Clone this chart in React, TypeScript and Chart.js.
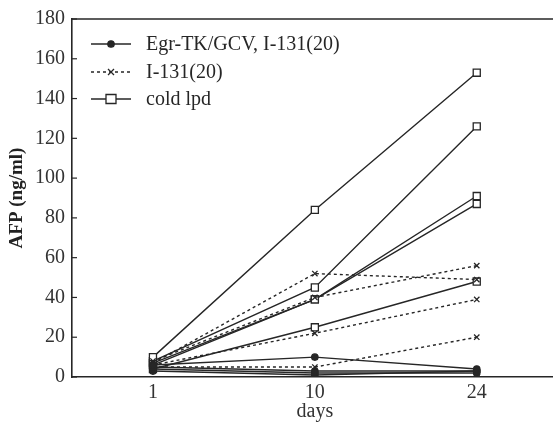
import React, { useEffect, useRef } from 'react';
import { Chart, registerables } from 'chart.js';

Chart.register(...registerables);

const days = ['1', '10', '24'];
const yMin = 0;
const yMax = 180;
const yStep = 20;

const egrLabel = 'Egr-TK/GCV, I-131(20)';
const i131Label = 'I-131(20)';
const coldLabel = 'cold lpd';

// Egr-TK/GCV, I-131(20) animals
const egrA = [6, 10, 4];
const egrB = [5, 3, 3];
const egrC = [4, 2, 2];
const egrD = [3, 1, 3];

// I-131(20) animals
const i131A = [7, 52, 49];
const i131B = [8, 40, 56];
const i131C = [6, 22, 39];
const i131D = [5, 5, 20];

// cold lpd animals
const coldA = [10, 84, 153];
const coldB = [8, 45, 126];
const coldC = [7, 39, 91];
const coldD = [6, 39, 87];
const coldE = [4, 25, 48];

const egrSeries = [egrA, egrB, egrC, egrD];
const i131Series = [i131A, i131B, i131C, i131D];
const coldSeries = [coldA, coldB, coldC, coldD, coldE];

const INK = '#262626';
const FONT = "'Liberation Serif', 'DejaVu Serif', serif";

const groupStyles = [
  { label: egrLabel, series: egrSeries, dash: [] as number[], pointStyle: 'circle', radius: 3.2, fill: INK },
  { label: i131Label, series: i131Series, dash: [3, 3], pointStyle: 'crossRot', radius: 3.8, fill: INK },
  { label: coldLabel, series: coldSeries, dash: [] as number[], pointStyle: 'rect', radius: 5, fill: '#ffffff' },
];

const framePlugin = {
  id: 'frameAndLegend',
  afterDraw(chart: any) {
    const ctx = chart.ctx;
    const { left, top, right } = chart.chartArea;
    const ys = chart.scales.y;
    ctx.save();
    ctx.strokeStyle = INK;
    ctx.lineWidth = 1.6;
    ctx.setLineDash([]);
    ctx.beginPath();
    ctx.moveTo(left, top);
    ctx.lineTo(right, top);
    ctx.stroke();
    // inward y ticks
    ctx.lineWidth = 1.2;
    for (let v = yMin; v <= yMax; v += yStep) {
      const y = ys.getPixelForValue(v);
      ctx.beginPath();
      ctx.moveTo(left, y);
      ctx.lineTo(left + 5, y);
      ctx.stroke();
    }
    // legend
    const rows = [44, 72, 99];
    groupStyles.forEach((g, i) => {
      const y = rows[i];
      ctx.strokeStyle = INK;
      ctx.lineWidth = 1.5;
      ctx.setLineDash(g.dash);
      ctx.beginPath();
      ctx.moveTo(91, y);
      ctx.lineTo(131, y);
      ctx.stroke();
      ctx.setLineDash([]);
      ctx.fillStyle = g.fill;
      ctx.lineWidth = 1.3;
      const cx = 111;
      if (g.pointStyle === 'circle') {
        ctx.beginPath();
        ctx.arc(cx, y, 3.2, 0, Math.PI * 2);
        ctx.fill();
        ctx.stroke();
      } else if (g.pointStyle === 'crossRot') {
        const r = 3;
        ctx.beginPath();
        ctx.moveTo(cx - r, y - r);
        ctx.lineTo(cx + r, y + r);
        ctx.moveTo(cx - r, y + r);
        ctx.lineTo(cx + r, y - r);
        ctx.stroke();
      } else {
        ctx.beginPath();
        ctx.rect(cx - 5, y - 4.5, 10, 9);
        ctx.fill();
        ctx.stroke();
      }
      ctx.fillStyle = INK;
      ctx.font = `20px ${FONT}`;
      ctx.textBaseline = 'middle';
      ctx.textAlign = 'left';
      ctx.fillText(g.label, 146, y + 1);
    });
    ctx.restore();
  },
};

export default function App() {
  const ref = useRef<HTMLCanvasElement>(null);
  useEffect(() => {
    if (!ref.current) return;
    const datasets: any[] = [];
    groupStyles.forEach((g) => {
      g.series.forEach((s, idx) => {
        datasets.push({
          label: `${g.label} #${idx + 1}`,
          data: s,
          borderColor: INK,
          borderWidth: 1.4,
          borderDash: g.dash,
          pointStyle: g.pointStyle,
          pointRadius: g.radius,
          pointBackgroundColor: g.fill,
          pointBorderColor: INK,
          pointBorderWidth: 1.3,
          tension: 0,
          fill: false,
        });
      });
    });
    const chart = new Chart(ref.current, {
      type: 'line',
      data: { labels: days, datasets },
      options: {
        animation: false,
        responsive: false,
        maintainAspectRatio: false,
        layout: { padding: { left: 0, right: 0, top: 18, bottom: 0 } },
        plugins: { legend: { display: false }, tooltip: { enabled: false } },
        scales: {
          x: {
            type: 'category',
            offset: true,
            grid: { display: false, drawTicks: false },
            border: { display: true, color: INK, width: 1.6 },
            ticks: { color: '#333', font: { family: FONT, size: 20 }, padding: 4 },
            title: { display: true, text: 'days', color: '#333', font: { family: FONT, size: 20 }, padding: { top: 0, bottom: 2 } },
            afterFit(scale: any) { scale.height = 49; },
          },
          y: {
            min: yMin,
            max: yMax,
            grid: { display: false, drawTicks: false },
            border: { display: true, color: INK, width: 1.6 },
            ticks: { stepSize: yStep, color: '#333', font: { family: FONT, size: 20 }, padding: 7 },
            title: { display: true, text: 'AFP (ng/ml)', color: '#222', font: { family: FONT, size: 19, weight: 'bold' }, padding: { top: 6, bottom: 0 } },
            afterFit(scale: any) { scale.width = 72; },
          },
        },
      },
      plugins: [framePlugin],
    });
    return () => chart.destroy();
  }, []);
  return (
    <div style={{ position: 'fixed', left: 0, top: 0, width: 553, height: 426, overflow: 'hidden', background: '#fff' }}>
      <canvas ref={ref} width={564} height={426} style={{ display: 'block', width: 564, height: 426 }} />
    </div>
  );
}
